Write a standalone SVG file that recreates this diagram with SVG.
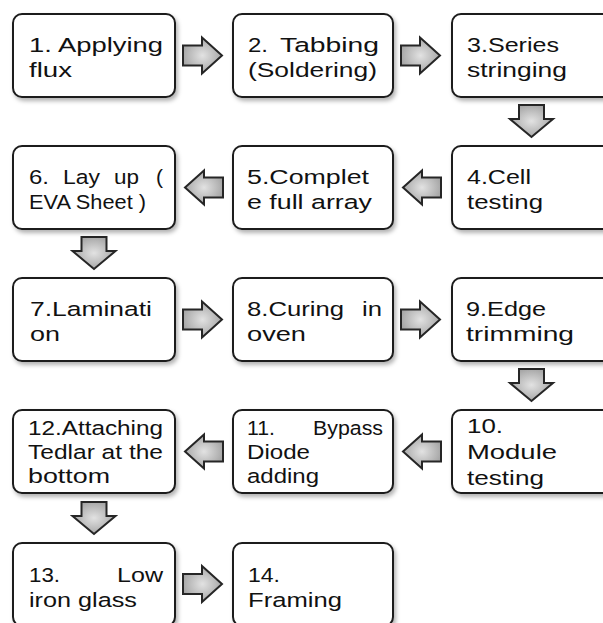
<svg xmlns="http://www.w3.org/2000/svg" width="603" height="623" viewBox="0 0 603 623">
<style>
.box{fill:#fff;stroke:#1c1c1c;stroke-width:2;filter:url(#sh)}
.t{font-family:"Liberation Sans",Arial,sans-serif;font-size:20.5px;fill:#111}
.arr{fill:url(#ag);stroke:#262626;stroke-width:2;stroke-linejoin:miter}
</style>
<defs>
<filter id="sh" x="-10%" y="-10%" width="125%" height="130%">
<feDropShadow dx="2" dy="3" stdDeviation="2" flood-color="#000" flood-opacity="0.3"/>
</filter>
<radialGradient id="ag" cx="50%" cy="50%" r="60%">
<stop offset="0" stop-color="#e2e2e2"/>
<stop offset="1" stop-color="#9c9c9c"/>
</radialGradient>
<path id="ra" d="M0,-10 H19 V-18 L39,0 L19,18 V10 H0 Z"/>
<path id="la" d="M0,-10 H-19 V-17 L-38,0 L-19,17 V10 H0 Z"/>
<path id="da" d="M-12.5,0 H12.5 V14 H21.5 L0,32 L-21.5,14 H-12.5 Z"/>
</defs>

<g id="connectors">
<use href="#ra" class="arr" x="183" y="55.5"/>
<use href="#ra" class="arr" x="401" y="55.5"/>
<use href="#da" class="arr" x="531.5" y="105"/>
<use href="#la" class="arr" x="441" y="187.5"/>
<use href="#la" class="arr" x="223" y="187.5"/>
<use href="#da" class="arr" x="94" y="237"/>
<use href="#ra" class="arr" x="183" y="319.5"/>
<use href="#ra" class="arr" x="401" y="319.5"/>
<use href="#da" class="arr" x="531.5" y="369"/>
<use href="#la" class="arr" x="441" y="451.5"/>
<use href="#la" class="arr" x="223" y="451.5"/>
<use href="#da" class="arr" x="94" y="502"/>
<use href="#ra" class="arr" x="183" y="584"/>
</g>

<g id="n1"><rect class="box" x="13" y="14" width="162" height="83" rx="9"/>
<text class="t" x="29" y="52" textLength="134" lengthAdjust="spacingAndGlyphs">1. Applying</text>
<text class="t" x="29" y="77" textLength="43" lengthAdjust="spacingAndGlyphs">flux</text></g>

<g id="n2"><rect class="box" x="233" y="14" width="160" height="83" rx="9"/>
<text class="t" y="52"><tspan x="248" textLength="20" lengthAdjust="spacingAndGlyphs">2.</tspan> <tspan x="280" textLength="99" lengthAdjust="spacingAndGlyphs">Tabbing</tspan></text>
<text class="t" x="248" y="77" textLength="129" lengthAdjust="spacingAndGlyphs">(Soldering)</text></g>

<g id="n3"><rect class="box" x="452" y="14" width="162" height="83" rx="9"/>
<text class="t" x="467" y="52" textLength="92" lengthAdjust="spacingAndGlyphs">3.Series</text>
<text class="t" x="467" y="77" textLength="100" lengthAdjust="spacingAndGlyphs">stringing</text></g>

<g id="n4"><rect class="box" x="452" y="146" width="162" height="83" rx="9"/>
<text class="t" x="467" y="184" textLength="64" lengthAdjust="spacingAndGlyphs">4.Cell</text>
<text class="t" x="467" y="209" textLength="76" lengthAdjust="spacingAndGlyphs">testing</text></g>

<g id="n5"><rect class="box" x="233" y="146" width="160" height="83" rx="9"/>
<text class="t" x="247" y="184" textLength="122" lengthAdjust="spacingAndGlyphs">5.Complet</text>
<text class="t" x="247" y="209" textLength="125" lengthAdjust="spacingAndGlyphs">e full array</text></g>

<g id="n6"><rect class="box" x="13" y="146" width="162" height="83" rx="9"/>
<text class="t" y="184"><tspan x="29" textLength="20" lengthAdjust="spacingAndGlyphs">6.</tspan> <tspan x="63" textLength="37" lengthAdjust="spacingAndGlyphs">Lay</tspan> <tspan x="114" textLength="25" lengthAdjust="spacingAndGlyphs">up</tspan> <tspan x="156" textLength="7" lengthAdjust="spacingAndGlyphs">(</tspan></text>
<text class="t" x="29" y="209" textLength="117" lengthAdjust="spacingAndGlyphs">EVA Sheet )</text></g>

<g id="n7"><rect class="box" x="13" y="278" width="162" height="83" rx="9"/>
<text class="t" x="30" y="316" textLength="122" lengthAdjust="spacingAndGlyphs">7.Laminati</text>
<text class="t" x="30" y="341" textLength="30" lengthAdjust="spacingAndGlyphs">on</text></g>

<g id="n8"><rect class="box" x="233" y="278" width="160" height="83" rx="9"/>
<text class="t" y="316"><tspan x="247" textLength="97" lengthAdjust="spacingAndGlyphs">8.Curing</tspan> <tspan x="362" textLength="20" lengthAdjust="spacingAndGlyphs">in</tspan></text>
<text class="t" x="247" y="341" textLength="59" lengthAdjust="spacingAndGlyphs">oven</text></g>

<g id="n9"><rect class="box" x="452" y="278" width="162" height="83" rx="9"/>
<text class="t" x="466" y="316" textLength="80" lengthAdjust="spacingAndGlyphs">9.Edge</text>
<text class="t" x="466" y="341" textLength="108" lengthAdjust="spacingAndGlyphs">trimming</text></g>

<g id="n10"><rect class="box" x="452" y="410" width="162" height="83" rx="9"/>
<text class="t" x="467" y="433" textLength="36" lengthAdjust="spacingAndGlyphs">10.</text>
<text class="t" x="467" y="459" textLength="90" lengthAdjust="spacingAndGlyphs">Module</text>
<text class="t" x="467" y="485" textLength="77" lengthAdjust="spacingAndGlyphs">testing</text></g>

<g id="n11"><rect class="box" x="233" y="410" width="160" height="83" rx="9"/>
<text class="t" y="435"><tspan x="247" textLength="28" lengthAdjust="spacingAndGlyphs">11.</tspan> <tspan x="313" textLength="70" lengthAdjust="spacingAndGlyphs">Bypass</tspan></text>
<text class="t" x="247" y="459" textLength="63" lengthAdjust="spacingAndGlyphs">Diode</text>
<text class="t" x="247" y="483" textLength="72" lengthAdjust="spacingAndGlyphs">adding</text></g>

<g id="n12"><rect class="box" x="13" y="410" width="162" height="83" rx="9"/>
<text class="t" x="28" y="435" textLength="135" lengthAdjust="spacingAndGlyphs">12.Attaching</text>
<text class="t" x="28" y="459" textLength="135" lengthAdjust="spacingAndGlyphs">Tedlar at the</text>
<text class="t" x="28" y="483" textLength="82" lengthAdjust="spacingAndGlyphs">bottom</text></g>

<g id="n13"><rect class="box" x="13" y="543" width="162" height="83" rx="9"/>
<text class="t" y="582"><tspan x="29" textLength="31" lengthAdjust="spacingAndGlyphs">13.</tspan> <tspan x="117" textLength="46" lengthAdjust="spacingAndGlyphs">Low</tspan></text>
<text class="t" x="29" y="607" textLength="108" lengthAdjust="spacingAndGlyphs">iron glass</text></g>

<g id="n14"><rect class="box" x="233" y="543" width="160" height="83" rx="9"/>
<text class="t" x="248" y="582" textLength="32" lengthAdjust="spacingAndGlyphs">14.</text>
<text class="t" x="248" y="607" textLength="94" lengthAdjust="spacingAndGlyphs">Framing</text></g>
</svg>
